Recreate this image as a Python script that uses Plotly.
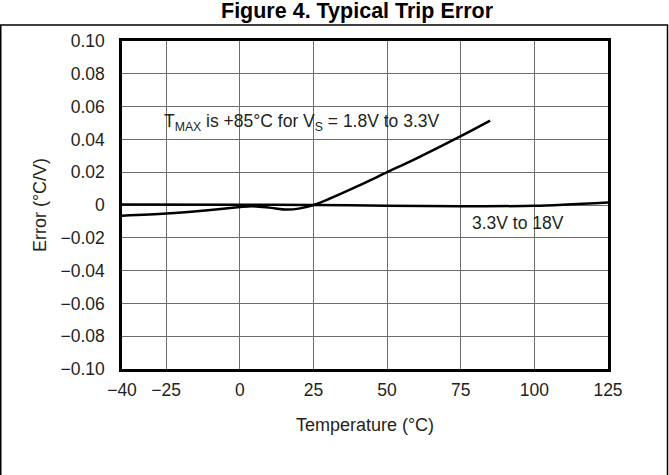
import plotly.graph_objects as go

# Curve 1: V_S = 1.8V to 3.3V (T_MAX = +85°C)
temp_low_v = [-40, -25, -10, 0, 4, 10, 16, 20, 25, 30, 40, 50, 60, 75, 85]
err_low_v = [-0.0065, -0.0052, -0.003, -0.0012, -0.0007, -0.0016, -0.0028, -0.0022, 0.0,
             0.0035, 0.0115, 0.0200, 0.0285, 0.0420, 0.0515]

# Curve 2: 3.3V to 18V
temp_high_v = [-40, 0, 25, 50, 75, 100, 125]
err_high_v = [0.0003, 0.0002, 0.0, -0.0004, -0.0007, -0.0005, 0.0016]

x_tickvals = [-40, -25, 0, 25, 50, 75, 100, 125]
x_ticktext = ["\u221240", "\u221225", "0", "25", "50", "75", "100", "125"]
y_tickvals = [0.10, 0.08, 0.06, 0.04, 0.02, 0, -0.02, -0.04, -0.06, -0.08, -0.10]
y_ticktext = ["0.10", "0.08", "0.06", "0.04", "0.02", "0", "\u22120.02", "\u22120.04",
              "\u22120.06", "\u22120.08", "\u22120.10"]

FONT = "Liberation Sans, Arial, Helvetica, sans-serif"
TXT = "#231f20"

fig = go.Figure()
fig.add_trace(go.Scatter(x=temp_low_v, y=err_low_v, mode="lines",
                         line=dict(color="black", width=2.5, shape="spline", smoothing=0.8),
                         showlegend=False, hoverinfo="skip"))
fig.add_trace(go.Scatter(x=temp_high_v, y=err_high_v, mode="lines",
                         line=dict(color="black", width=2.5, shape="spline", smoothing=0.8),
                         showlegend=False, hoverinfo="skip"))

# pixel geometry helpers (plot area: x 122..608, y 41..369)
L, R, T, B = 122, 608, 41, 369
W, H = 669, 475
def px(x):
    return (x - L) / (R - L)
def py(y):
    return (B - y) / (B - T)

fig.update_layout(
    width=W, height=H,
    margin=dict(l=L, r=W - R, t=T, b=H - B, autoexpand=False),
    paper_bgcolor="white", plot_bgcolor="white",
    font=dict(family=FONT, size=17.5, color=TXT),
    xaxis=dict(range=[-40, 125], tickvals=x_tickvals, ticktext=x_ticktext,
               showgrid=True, gridcolor="#6d6d6d", gridwidth=1,
               showline=True, linecolor="black", linewidth=2.5, mirror=True,
               ticks="outside", ticklen=3, tickcolor="rgba(0,0,0,0)",
               zeroline=False, automargin=False,
               tickfont=dict(size=17.5, family=FONT, color=TXT),
               title=dict(text="Temperature (\u00b0C)", standoff=20,
                          font=dict(size=18, family=FONT, color=TXT))),
    yaxis=dict(range=[-0.10, 0.10], tickvals=y_tickvals, ticktext=y_ticktext,
               showgrid=True, gridcolor="#6d6d6d", gridwidth=1,
               showline=True, linecolor="black", linewidth=2.5, mirror=True,
               ticks="outside", ticklen=11, tickcolor="rgba(0,0,0,0)",
               zeroline=False, automargin=False,
               tickfont=dict(size=17.5, family=FONT, color=TXT),
               title=dict(text="Error (\u00b0C/V)", standoff=10,
                          font=dict(size=18, family=FONT, color=TXT))),
)

fig.add_annotation(x=-26.5, y=0.0506, xref="x", yref="y",
                   text="T<sub>MAX</sub> is +85\u00b0C for V<sub>S</sub> = 1.8V to 3.3V",
                   showarrow=False, xanchor="left", yanchor="middle",
                   font=dict(size=17.5, family=FONT, color=TXT))
fig.add_annotation(x=78.0, y=-0.0108, xref="x", yref="y",
                   text="3.3V to 18V", showarrow=False, xanchor="left", yanchor="middle",
                   font=dict(size=17.5, family=FONT, color=TXT))

# figure title
fig.add_annotation(x=px(357), y=py(11), xref="paper", yref="paper",
                   text="<b>Figure 4. Typical Trip Error</b>", showarrow=False,
                   xanchor="center", yanchor="middle",
                   font=dict(size=21.5, family=FONT, color="black"))

# outer frame box
fig.add_shape(type="rect", xref="paper", yref="paper",
              x0=px(0.75), x1=px(667.5), y0=py(480), y1=py(25),
              line=dict(color="black", width=1.5), fillcolor="rgba(0,0,0,0)", layer="below")

fig.write_html("out.html",
               config={"displayModeBar": False},
               post_script="document.body.style.margin='0';document.body.style.padding='0';")
